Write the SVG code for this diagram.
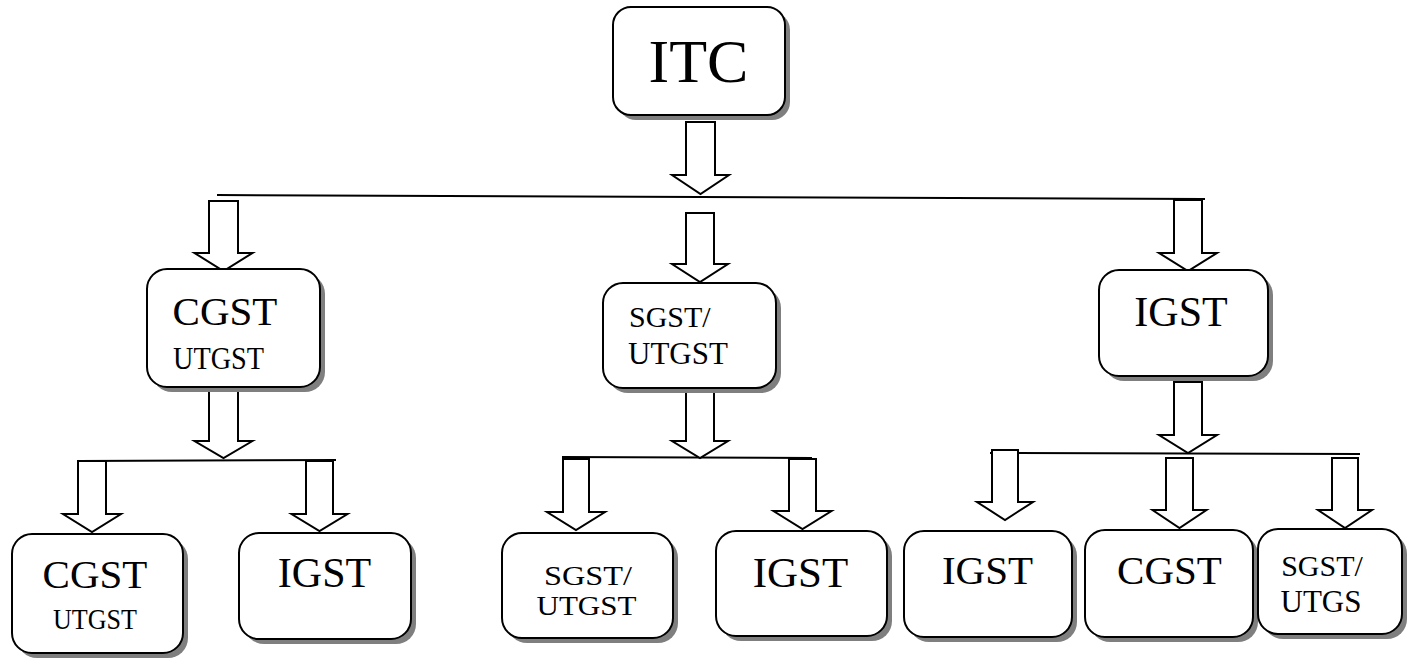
<svg xmlns="http://www.w3.org/2000/svg" width="1428" height="659" viewBox="0 0 1428 659">
<style>
.sh{fill:#7f7f7f;}
.bx{fill:#fff;stroke:#000;stroke-width:2;}
.ar{fill:#fff;stroke:#000;stroke-width:2;stroke-linejoin:miter;}
.ln{stroke:#000;stroke-width:2;fill:none;}
text{font-family:"Liberation Serif","Times New Roman",serif;fill:#000;}
.m{text-anchor:middle;}
</style>
<rect width="1428" height="659" fill="#fff"/>
<g id="connectors">
<line class="ln" x1="217" y1="195" x2="1205" y2="199"/>
<line class="ln" x1="78" y1="461" x2="336" y2="460"/>
<line class="ln" x1="562" y1="457" x2="812" y2="458"/>
<line class="ln" x1="990" y1="453" x2="1360" y2="454"/>
<path class="ar" d="M686,122 L715,122 L715,175 L729,175 L700.5,194 L672,175 L686,175 Z"/>
<path class="ar" d="M209,201 L238,201 L238,253 L252.5,253 L223.5,271 L194.5,253 L209,253 Z"/>
<path class="ar" d="M686,213 L714,213 L714,264 L728,264 L700,282 L672,264 L686,264 Z"/>
<path class="ar" d="M1174,200 L1202,200 L1202,253 L1217,253 L1188,271 L1159,253 L1174,253 Z"/>
<path class="ar" d="M209,387 L238,387 L238,441 L252.5,441 L223.5,458 L194.5,441 L209,441 Z"/>
<path class="ar" d="M686,388 L714,388 L714,441 L728,441 L700,458 L672,441 L686,441 Z"/>
<path class="ar" d="M1174,382 L1202,382 L1202,435 L1217,435 L1188,453 L1159,435 L1174,435 Z"/>
<path class="ar" d="M78,461 L106,461 L106,514 L121,514 L92,532 L63,514 L78,514 Z"/>
<path class="ar" d="M306,461 L333,461 L333,514 L347.5,514 L319.5,531 L291.5,514 L306,514 Z"/>
<path class="ar" d="M563,459 L589,459 L589,512 L605,512 L576,530 L547,512 L563,512 Z"/>
<path class="ar" d="M789,459 L816,459 L816,511 L831.5,511 L802.5,529 L773.5,511 L789,511 Z"/>
<path class="ar" d="M992,450 L1018,450 L1018,502 L1033,502 L1005,520 L977,502 L992,502 Z"/>
<path class="ar" d="M1166,458 L1193,458 L1193,510 L1206.5,510 L1179.5,528 L1152.5,510 L1166,510 Z"/>
<path class="ar" d="M1332,458 L1358,458 L1358,510 L1372,510 L1345,528 L1318,510 L1332,510 Z"/>
</g>
<g id="itc">
<rect class="sh" x="618" y="12" width="172" height="108" rx="18"/>
<rect class="bx" x="613" y="7" width="172" height="108" rx="18"/>
<text class="m" x="698.5" y="82" font-size="62">ITC</text>
</g>
<g id="cgst1">
<rect class="sh" x="152" y="274" width="173" height="118" rx="20"/>
<rect class="bx" x="147" y="269" width="173" height="118" rx="20"/>
<text class="m" x="225" y="325" font-size="41">CGST</text>
<text class="m" x="218.5" y="369" font-size="32" textLength="91" lengthAdjust="spacingAndGlyphs">UTGST</text>
</g>
<g id="sgst1">
<rect class="sh" x="608" y="288" width="173" height="105" rx="20"/>
<rect class="bx" x="603" y="283" width="173" height="105" rx="20"/>
<text x="629" y="327" font-size="30">SGST/</text>
<text x="628" y="364" font-size="31">UTGST</text>
</g>
<g id="igst1">
<rect class="sh" x="1104" y="275" width="169" height="106" rx="20"/>
<rect class="bx" x="1099" y="270" width="169" height="106" rx="20"/>
<text class="m" x="1181" y="326" font-size="42">IGST</text>
</g>
<g id="cgst2">
<rect class="sh" x="17" y="539" width="171" height="119" rx="20"/>
<rect class="bx" x="12" y="534" width="171" height="119" rx="20"/>
<text class="m" x="95" y="588" font-size="41">CGST</text>
<text class="m" x="95" y="629" font-size="30" textLength="84" lengthAdjust="spacingAndGlyphs">UTGST</text>
</g>
<g id="igst2">
<rect class="sh" x="244" y="538" width="172" height="106" rx="20"/>
<rect class="bx" x="239" y="533" width="172" height="106" rx="20"/>
<text class="m" x="324.5" y="587" font-size="42">IGST</text>
</g>
<g id="sgst2">
<rect class="sh" x="507" y="538" width="171" height="105" rx="20"/>
<rect class="bx" x="502" y="533" width="171" height="105" rx="20"/>
<text class="m" x="588" y="585" font-size="27" textLength="88" lengthAdjust="spacingAndGlyphs">SGST/</text>
<text class="m" x="586.5" y="615" font-size="28" textLength="100" lengthAdjust="spacingAndGlyphs">UTGST</text>
</g>
<g id="igst3">
<rect class="sh" x="721" y="536" width="171" height="105" rx="20"/>
<rect class="bx" x="716" y="531" width="171" height="105" rx="20"/>
<text class="m" x="800.5" y="587" font-size="43">IGST</text>
</g>
<g id="igst4">
<rect class="sh" x="909" y="536" width="168" height="106" rx="20"/>
<rect class="bx" x="904" y="531" width="168" height="106" rx="20"/>
<text class="m" x="987.5" y="584" font-size="41">IGST</text>
</g>
<g id="cgst4">
<rect class="sh" x="1090" y="535" width="168" height="107" rx="20"/>
<rect class="bx" x="1085" y="530" width="168" height="107" rx="20"/>
<text class="m" x="1169.5" y="584" font-size="41">CGST</text>
</g>
<g id="sgst4">
<rect class="sh" x="1263" y="534" width="144" height="105" rx="20"/>
<rect class="bx" x="1258" y="529" width="144" height="105" rx="20"/>
<text class="m" x="1322" y="576" font-size="30">SGST/</text>
<text class="m" x="1321" y="612" font-size="31">UTGS</text>
</g>
</svg>
